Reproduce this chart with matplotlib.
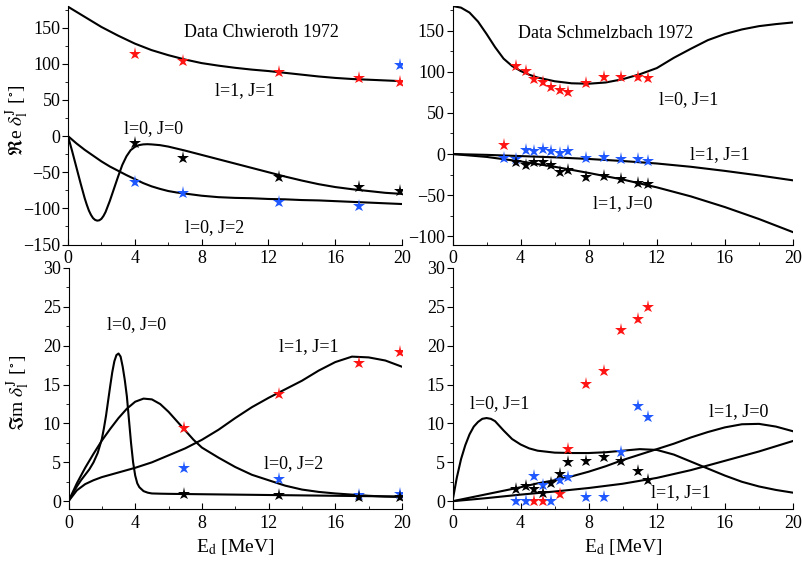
import matplotlib
matplotlib.use("Agg")
import matplotlib.pyplot as plt
from matplotlib.ticker import MultipleLocator

plt.rcParams['font.family'] = ['Liberation Serif', 'DejaVu Serif']
plt.rcParams['mathtext.fontset'] = 'stix'
plt.rcParams['font.size'] = 12

RED = '#ff1414'
BLUE = '#2058ff'
BLACK = '#000000'

# ---------------- Top-left: Re, Chwieroth 1972 ----------------
tl_x = [4.0, 6.9, 12.65, 17.45, 19.9]
tl_red = [114, 104, 89, 80, 75]
tl_blue = [-64, -79, -91, -97, 98]
tl_black = [-10, -30, -56, -70, -76]

tl_c11_x = [0, 1, 2, 3, 4, 5, 6, 7, 8, 9, 10, 11, 12, 13, 14, 15, 16, 17, 18, 19, 20]
tl_c11_y = [179, 165, 151, 139, 128, 119, 112, 106, 101, 97.5, 94.5, 92, 90, 87.5, 85, 82.5,
            80.5, 79, 78, 77, 76]

tl_c00_x = [0, 0.25, 0.5, 0.75, 1.0, 1.125, 1.25, 1.375, 1.5, 1.625, 1.75, 1.875, 2.0, 2.125,
            2.25, 2.5, 2.75, 3.0, 3.25, 3.5, 3.75, 4.0, 4.25, 4.5, 4.75, 5.0, 5.5, 6, 7, 8, 9,
            10, 11, 12, 13, 14, 15, 16, 17, 18, 19, 20]
tl_c00_y = [0, -21, -43, -65, -86, -95, -103, -109, -113.5, -116, -117, -116.5, -114.5, -110.5,
            -105, -90, -73, -56, -40, -28, -19.5, -15, -12.5, -11.5, -11.2, -11.5, -12.5, -14.5,
            -20, -26, -32, -38, -44, -50, -56, -61.5, -66.5, -70.5, -73.5, -76, -78.5, -80]

tl_c02_x = [0, 0.5, 1, 1.5, 2, 2.5, 3, 3.5, 4, 4.5, 5, 5.5, 6, 6.5, 7, 8, 9, 10, 11, 12, 13,
            14, 15, 16, 17, 18, 19, 20]
tl_c02_y = [0, -10, -19, -27, -35, -42, -48, -54, -59.5, -65, -69.5, -73, -76, -78, -79.5,
            -82.5, -84.5, -85.5, -86, -87, -87.5, -88.5, -89, -90, -91, -92, -93, -94]

# ---------------- Top-right: Re, Schmelzbach 1972 ----------------
tr_x = [3.0, 3.75, 4.3, 4.8, 5.3, 5.8, 6.3, 6.8, 7.85, 8.9, 9.9, 10.9, 11.5]
tr_red = [10.5, 107, 101, 91.5, 87, 81, 78, 75.5, 86, 94, 93.5, 93.5, 92]
tr_blue = [-5, -6, 4.5, 3.5, 6.5, 3.5, 1.5, 4, -5, -3.5, -6, -6, -8]
tr_black_x = [3.75, 4.3, 4.8, 5.3, 5.8, 6.3, 6.8, 7.85, 8.9, 9.9, 10.9, 11.5]
tr_black = [-9.5, -13, -9.5, -10, -13, -22, -19.5, -28, -27, -30, -35, -36]

tr_c01_x = [0, 0.5, 1, 1.5, 2, 2.5, 3, 3.5, 4, 4.5, 5, 6, 7, 8, 9, 10, 11, 12, 13, 14, 15,
            16, 17, 18, 19, 20]
tr_c01_y = [180, 178, 172, 161, 146, 130, 116, 107, 101, 96.5, 93, 88.5, 86, 85.5, 87, 91, 97,
            104.5, 117, 128, 138.5, 146, 151.5, 155.5, 158, 160]
tr_c11_x = [0, 2, 4, 6, 8, 10, 12, 14, 16, 18, 20]
tr_c11_y = [0, -1, -2.5, -4, -6, -8.5, -11.5, -15.5, -20.5, -26, -32]
tr_c10_x = [0, 2, 4, 6, 8, 10, 12, 14, 16, 18, 20]
tr_c10_y = [0, -3.5, -9, -15.5, -23, -31, -40.5, -51.5, -64.5, -79, -95]

# ---------------- Bottom-left: Im, Chwieroth ----------------
bl_x = [6.9, 12.65, 17.45, 19.9]
bl_red = [9.4, 13.8, 17.8, 19.2]
bl_blue = [4.3, 2.9, 0.8, 0.9]
bl_black = [0.95, 0.75, 0.55, 0.55]

bl_c00_x = [0, 0.25, 0.5, 0.75, 1, 1.25, 1.5, 1.75, 2, 2.125, 2.25, 2.375, 2.5, 2.625, 2.75,
            2.875, 3, 3.125, 3.25, 3.375, 3.5, 3.625, 3.75, 3.875, 4, 4.125, 4.25, 4.5, 4.75,
            5, 5.5, 6, 8, 10, 12, 14, 16, 18, 20]
bl_c00_y = [0, 1.0, 1.9, 2.7, 3.4, 4.1, 5.0, 6.2, 8.0, 9.4, 11.0, 12.9, 14.8, 16.6, 18.0, 18.8,
            19.0, 18.6, 17.3, 15.6, 13.5, 10.5, 7.5, 5.0, 3.3, 2.3, 1.8, 1.3, 1.1, 1.0, 0.97,
            0.95, 0.9, 0.85, 0.8, 0.75, 0.7, 0.65, 0.6]
bl_c02_x = [0, 0.5, 1, 1.5, 2, 2.5, 3, 3.5, 4, 4.5, 5, 5.5, 6, 6.5, 7, 7.5, 8, 9, 10, 11, 12,
            13, 14, 15, 16, 17, 18, 19, 20]
bl_c02_y = [0, 2.3, 4.3, 6.1, 7.8, 9.3, 10.7, 11.9, 12.8, 13.2, 13.1, 12.5, 11.5, 10.3, 9.1,
            7.9, 6.9, 5.6, 4.4, 3.4, 2.7, 2.0, 1.5, 1.2, 1.0, 0.85, 0.7, 0.6, 0.55]
bl_c11_x = [0, 0.5, 1, 1.5, 2, 3, 4, 5, 6, 7, 8, 9, 10, 11, 12, 13, 14, 15, 16, 17, 18, 19, 20]
bl_c11_y = [0, 1.4, 2.2, 2.7, 3.1, 3.7, 4.3, 5.0, 5.9, 6.8, 7.9, 9.2, 10.7, 12.1, 13.3, 14.4,
            15.5, 16.8, 17.9, 18.6, 18.5, 18.1, 17.3]

# ---------------- Bottom-right: Im, Schmelzbach ----------------
br_red_x = [4.8, 5.3, 6.3, 6.8, 7.85, 8.9, 9.9, 10.9, 11.5]
br_red = [0, 0, 0.9, 6.7, 15.1, 16.7, 22.0, 23.4, 25.0]
br_blue_x = [3.75, 4.3, 4.8, 5.3, 5.8, 6.3, 6.8, 7.85, 8.9, 9.9, 10.9, 11.5]
br_blue = [0, 0, 3.2, 2.1, 0, 2.7, 3.15, 0.55, 0.55, 6.3, 12.3, 10.8]
br_black_x = [3.75, 4.3, 4.8, 5.3, 5.8, 6.3, 6.8, 7.85, 8.9, 9.9, 10.9, 11.5]
br_black = [1.55, 1.95, 1.6, 1.1, 2.4, 3.5, 5.0, 5.2, 5.7, 5.2, 3.9, 2.7]

br_c01_x = [0, 0.25, 0.5, 0.75, 1, 1.25, 1.5, 1.75, 2, 2.25, 2.5, 3, 3.5, 4, 4.5, 5, 6, 7, 8, 9,
            10, 11, 12, 13, 14, 15, 16, 17, 18, 19, 20]
br_c01_y = [0, 3.0, 5.4, 7.2, 8.6, 9.6, 10.2, 10.6, 10.7, 10.6, 10.3, 9.1, 8.0, 7.3, 6.8, 6.5,
            6.25, 6.2, 6.2, 6.3, 6.5, 6.7, 6.6, 6.0, 5.1, 4.2, 3.3, 2.5, 1.9, 1.45, 1.1]
br_c10_x = [0, 1, 2, 3, 4, 5, 6, 7, 8, 9, 10, 11, 12, 13, 14, 15, 16, 17, 18, 19, 20]
br_c10_y = [0, 0.45, 0.9, 1.35, 1.8, 2.3, 2.7, 3.2, 3.8, 4.5, 5.3, 6.0, 6.7, 7.4, 8.2, 8.9, 9.5,
            9.9, 9.95, 9.6, 9.0]
br_c11_x = [0, 2, 4, 6, 8, 10, 12, 14, 16, 18, 20]
br_c11_y = [0, 0.4, 0.85, 1.25, 1.7, 2.25, 3.0, 4.0, 5.2, 6.4, 7.75]

xticks = [0, 4, 8, 12, 16, 20]

W, H = 802, 563
fig = plt.figure(figsize=(W / 100, H / 100), dpi=100)

def px_axes(x0, x1, ytop, ybot):
    return fig.add_axes([x0 / W, (H - ybot) / H, (x1 - x0) / W, (ybot - ytop) / H])

ax_tl = px_axes(68, 402, 6, 244.5)
ax_tr = px_axes(452.5, 793, 6, 244.5)
ax_bl = px_axes(68.5, 402, 268, 509)
ax_br = px_axes(452.5, 793, 268, 509)

LW = 1.5
MS = 9.5

def style(ax, ylim, ymaj, ymin):
    ax.set_xlim(0, 20)
    ax.set_ylim(*ylim)
    ax.spines['top'].set_visible(False)
    ax.spines['right'].set_visible(False)
    ax.set_xticks(xticks)
    ax.xaxis.set_minor_locator(MultipleLocator(2))
    ax.yaxis.set_major_locator(MultipleLocator(ymaj))
    ax.yaxis.set_minor_locator(MultipleLocator(ymin))
    ax.tick_params(axis='x', which='both', direction='in', labelsize=13, pad=4)
    ax.tick_params(axis='x', which='major', length=4)
    ax.tick_params(axis='x', which='minor', length=2.5)
    ax.tick_params(axis='y', which='both', direction='out', labelsize=13, pad=1.5)
    ax.tick_params(axis='y', which='major', length=4)
    ax.tick_params(axis='y', which='minor', length=2.5)
    ax.patch.set_alpha(0)

def stars(ax, x, y, c):
    ax.plot(x, y, linestyle='none', marker='*', color=c, markersize=MS, markeredgewidth=0)

# Top-left
ax = ax_tl
style(ax, (-150, 180), 50, 25)
ax.set_yticks([-150, -100, -50, 0, 50, 100, 150])
for cx, cy in [(tl_c11_x, tl_c11_y), (tl_c00_x, tl_c00_y), (tl_c02_x, tl_c02_y)]:
    ax.plot(cx, cy, color='black', lw=LW, solid_joinstyle='round')
stars(ax, tl_x, tl_red, RED)
stars(ax, tl_x, tl_blue, BLUE)
stars(ax, tl_x, tl_black, BLACK)
ax.text(11.6, 143, 'Data Chwieroth 1972', ha='center', va='center', fontsize=13)
ax.text(10.6, 63, 'l=1, J=1', ha='center', va='center', fontsize=13)
ax.text(5.15, 11, 'l=0, J=0', ha='center', va='center', fontsize=13)
ax.text(8.8, -127, 'l=0, J=2', ha='center', va='center', fontsize=13)
ax.set_ylabel(r'$\Re$e $\delta_{\rm l}^{\rm J}$ [$^{\circ}$]', fontsize=14)
ax.yaxis.set_label_coords(-0.11, 0.52)

# Top-right
ax = ax_tr
style(ax, (-110, 180), 50, 25)
ax.set_yticks([-100, -50, 0, 50, 100, 150])
for cx, cy in [(tr_c01_x, tr_c01_y), (tr_c11_x, tr_c11_y), (tr_c10_x, tr_c10_y)]:
    ax.plot(cx, cy, color='black', lw=LW, solid_joinstyle='round')
stars(ax, tr_x, tr_red, RED)
stars(ax, tr_x, tr_blue, BLUE)
stars(ax, tr_black_x, tr_black, BLACK)
ax.text(9.0, 147, 'Data Schmelzbach 1972', ha='center', va='center', fontsize=13)
ax.text(13.9, 66, 'l=0, J=1', ha='center', va='center', fontsize=13)
ax.text(15.7, -1, 'l=1, J=1', ha='center', va='center', fontsize=13)
ax.text(10.0, -60, 'l=1, J=0', ha='center', va='center', fontsize=13)

# Bottom-left
ax = ax_bl
style(ax, (-1, 30), 5, 2.5)
ax.set_yticks([0, 5, 10, 15, 20, 25, 30])
for cx, cy in [(bl_c00_x, bl_c00_y), (bl_c02_x, bl_c02_y), (bl_c11_x, bl_c11_y)]:
    ax.plot(cx, cy, color='black', lw=LW, solid_joinstyle='round')
stars(ax, bl_x, bl_red, RED)
stars(ax, bl_x, bl_blue, BLUE)
stars(ax, bl_x, bl_black, BLACK)
ax.text(4.1, 22.7, 'l=0, J=0', ha='center', va='center', fontsize=13)
ax.text(14.4, 19.9, 'l=1, J=1', ha='center', va='center', fontsize=13)
ax.text(13.5, 4.9, 'l=0, J=2', ha='center', va='center', fontsize=13)
ax.set_ylabel(r'$\Im$m $\delta_{\rm l}^{\rm J}$ [$^{\circ}$]', fontsize=14)
ax.yaxis.set_label_coords(-0.11, 0.48)
ax.set_xlabel(r'E$_{\rm d}$ [MeV]', fontsize=14)
ax.xaxis.set_label_coords(0.5, -0.115)

# Bottom-right
ax = ax_br
style(ax, (-1, 30), 5, 2.5)
ax.set_yticks([0, 5, 10, 15, 20, 25, 30])
for cx, cy in [(br_c01_x, br_c01_y), (br_c10_x, br_c10_y), (br_c11_x, br_c11_y)]:
    ax.plot(cx, cy, color='black', lw=LW, solid_joinstyle='round')
stars(ax, br_red_x, br_red, RED)
stars(ax, br_blue_x, br_blue, BLUE)
stars(ax, br_black_x, br_black, BLACK)
ax.text(2.75, 12.5, 'l=0, J=1', ha='center', va='center', fontsize=13)
ax.text(16.8, 11.5, 'l=1, J=0', ha='center', va='center', fontsize=13)
ax.text(13.4, 1.1, 'l=1, J=1', ha='center', va='center', fontsize=13)
ax.set_xlabel(r'E$_{\rm d}$ [MeV]', fontsize=14)
ax.xaxis.set_label_coords(0.5, -0.115)

fig.savefig('out.png', dpi=100)
